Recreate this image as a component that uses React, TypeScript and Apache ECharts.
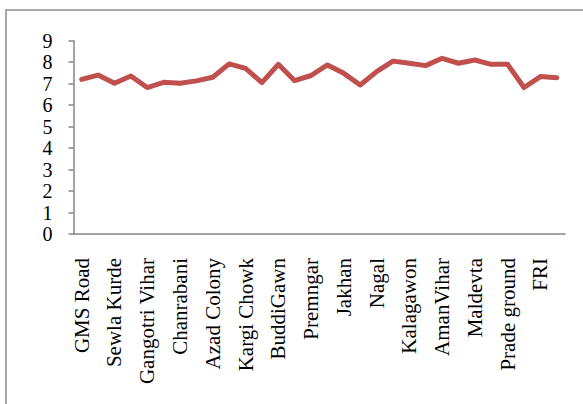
import React, { useEffect, useRef } from "react";
import * as echarts from "echarts";

const categories: string[] = [
  "GMS Road", "", "Sewla Kurde", "", "Gangotri Vihar", "", "Chanrabani", "",
  "Azad Colony", "", "Kargi Chowk", "", "BuddiGawn", "", "Premngar", "",
  "Jakhan", "", "Nagal", "", "Kalagawon", "", "AmanVihar", "", "Maldevta", "",
  "Prade ground", "", "FRI", "",
];

const values: number[] = [
  7.2, 7.4, 7.02, 7.36, 6.82, 7.06, 7.02, 7.13, 7.3, 7.92,
  7.71, 7.05, 7.9, 7.14, 7.38, 7.87, 7.48, 6.94, 7.56, 8.05,
  7.95, 7.84, 8.18, 7.95, 8.1, 7.9, 7.9, 6.82, 7.33, 7.28,
];

const yMin = 0;
const yMax = 9;
const yInterval = 1;

export default function App() {
  const ref = useRef<HTMLDivElement>(null);
  useEffect(() => {
    if (!ref.current) return;
    const chart = echarts.init(ref.current, null, { renderer: "svg" });
    const font = "'Liberation Serif', 'Times New Roman', serif";
    chart.setOption({
      animation: false,
      backgroundColor: "#ffffff",
      graphic: [
        {
          type: "rect",
          shape: { x: 6, y: 10, width: 640, height: 460 },
          style: { fill: "none", stroke: "#8c8c8c", lineWidth: 1.5 },
          silent: true,
        },
      ],
      grid: { left: 73.5, right: 18, top: 40.7, bottom: 170, containLabel: false },
      xAxis: {
        type: "category",
        data: categories,
        boundaryGap: true,
        axisLine: { show: true, lineStyle: { color: "#868686", width: 1.5 } },
        axisTick: { show: false },
        axisLabel: {
          interval: 1,
          rotate: 90,
          margin: 24,
          fontFamily: font,
          fontSize: 21,
          lineHeight: 21,
          color: "#000000",
        },
        splitLine: { show: false },
      },
      yAxis: {
        type: "value",
        min: yMin,
        max: yMax,
        interval: yInterval,
        axisLine: { show: true, lineStyle: { color: "#868686", width: 1.5 } },
        axisTick: { show: true, length: 5, inside: false, lineStyle: { color: "#868686", width: 1.5 } },
        axisLabel: {
          margin: 21,
          fontFamily: font,
          fontSize: 20,
          lineHeight: 20,
          color: "#000000",
        },
        splitLine: { show: false },
      },
      series: [
        {
          type: "line",
          data: values,
          showSymbol: false,
          symbol: "none",
          lineStyle: { color: "#C0504D", width: 5, join: "round", cap: "round" },
        },
      ],
    });
    return () => chart.dispose();
  }, []);
  return (
    <div
      ref={ref}
      style={{ position: "fixed", left: 0, top: 0, width: 583, height: 404 }}
    />
  );
}
